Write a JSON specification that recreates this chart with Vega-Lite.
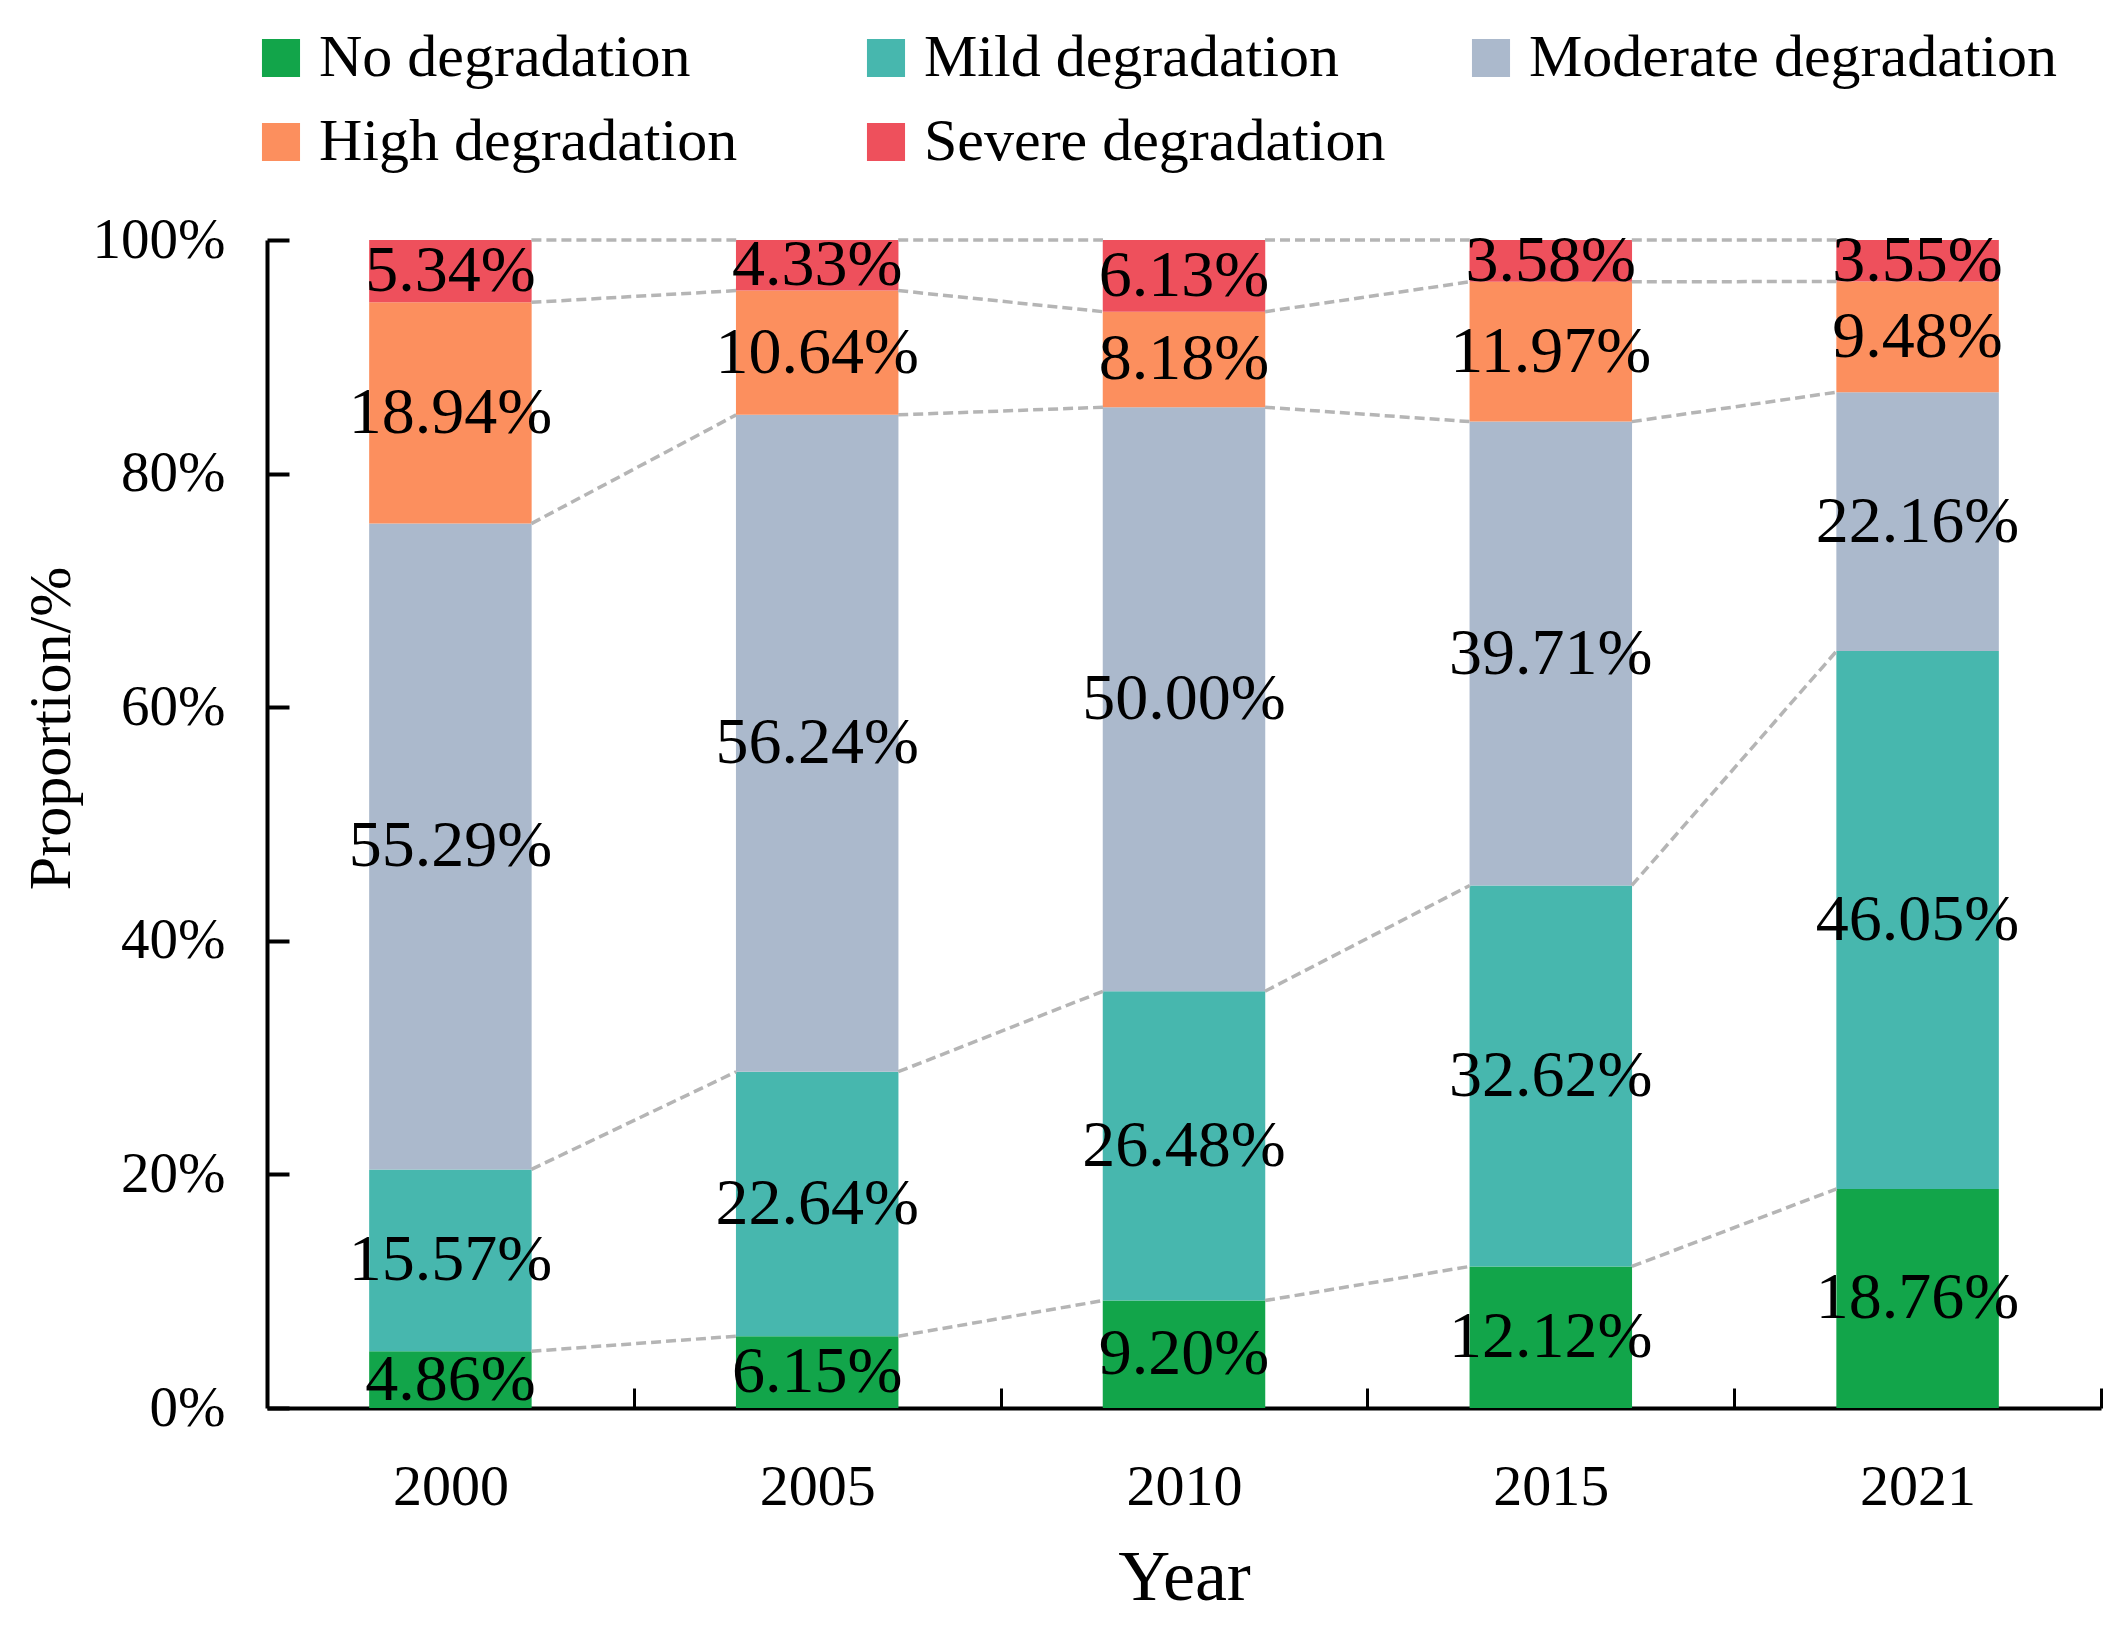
{
  "$schema": "https://vega.github.io/schema/vega-lite/v6.json",
  "width": 1834,
  "height": 1168,
  "autosize": "none",
  "padding": {"left": 267, "top": 240, "right": 20, "bottom": 232},
  "background": "white",
  "config": {
    "view": {"stroke": null},
    "font": "Liberation Serif",
    "axis": {"labelFont": "Liberation Serif", "titleFont": "Liberation Serif", "labelColor": "black", "titleColor": "black", "titleFontWeight": "normal", "grid": false},
    "legend": {"labelFont": "Liberation Serif"}
  },
  "data": {
    "values": [
      {"year": "2000", "cat": "No degradation", "order": 1, "p": 0.0486},
      {"year": "2000", "cat": "Mild degradation", "order": 2, "p": 0.1557},
      {"year": "2000", "cat": "Moderate degradation", "order": 3, "p": 0.5529},
      {"year": "2000", "cat": "High degradation", "order": 4, "p": 0.1894},
      {"year": "2000", "cat": "Severe degradation", "order": 5, "p": 0.0534},
      {"year": "2005", "cat": "No degradation", "order": 1, "p": 0.0615},
      {"year": "2005", "cat": "Mild degradation", "order": 2, "p": 0.2264},
      {"year": "2005", "cat": "Moderate degradation", "order": 3, "p": 0.5624},
      {"year": "2005", "cat": "High degradation", "order": 4, "p": 0.1064},
      {"year": "2005", "cat": "Severe degradation", "order": 5, "p": 0.0433},
      {"year": "2010", "cat": "No degradation", "order": 1, "p": 0.0920},
      {"year": "2010", "cat": "Mild degradation", "order": 2, "p": 0.2648},
      {"year": "2010", "cat": "Moderate degradation", "order": 3, "p": 0.5000},
      {"year": "2010", "cat": "High degradation", "order": 4, "p": 0.0818},
      {"year": "2010", "cat": "Severe degradation", "order": 5, "p": 0.0613},
      {"year": "2015", "cat": "No degradation", "order": 1, "p": 0.1212},
      {"year": "2015", "cat": "Mild degradation", "order": 2, "p": 0.3262},
      {"year": "2015", "cat": "Moderate degradation", "order": 3, "p": 0.3971},
      {"year": "2015", "cat": "High degradation", "order": 4, "p": 0.1197},
      {"year": "2015", "cat": "Severe degradation", "order": 5, "p": 0.0358},
      {"year": "2021", "cat": "No degradation", "order": 1, "p": 0.1876},
      {"year": "2021", "cat": "Mild degradation", "order": 2, "p": 0.4605},
      {"year": "2021", "cat": "Moderate degradation", "order": 3, "p": 0.2216},
      {"year": "2021", "cat": "High degradation", "order": 4, "p": 0.0948},
      {"year": "2021", "cat": "Severe degradation", "order": 5, "p": 0.0355}
    ]
  },
  "encoding": {
    "x": {
      "field": "year", "type": "nominal",
      "scale": {"paddingInner": 0.557, "paddingOuter": 0.2785},
      "axis": {
        "title": "Year", "labelAngle": 0, "labelFontSize": 58, "titleFontSize": 72,
        "domainColor": "black", "domainWidth": 4, "tickColor": "black", "tickWidth": 3,
        "tickSize": -20, "bandPosition": 0.5, "tickOffset": 183.4, "labelOffset": -183.4,
        "labelPadding": 70, "titlePadding": 26
      }
    }
  },
  "layer": [
    {
      "transform": [
        {"stack": "p", "groupby": ["year"], "sort": [{"field": "order"}], "as": ["y0", "y1"]}
      ],
      "layer": [
        {
          "mark": {"type": "bar"},
          "encoding": {
            "y": {
              "field": "y0", "type": "quantitative",
              "scale": {"domain": [0, 1], "nice": false},
              "axis": {
                "title": "Proportion/%", "format": ".0%", "values": [0, 0.2, 0.4, 0.6, 0.8, 1],
                "labelFontSize": 57, "titleFontSize": 60, "domainColor": "black", "domainWidth": 4,
                "tickColor": "black", "tickWidth": 4, "tickSize": -22, "labelPadding": 64,
                "titlePadding": 10, "titleY": 488
              }
            },
            "y2": {"field": "y1"},
            "color": {
              "field": "cat", "type": "nominal",
              "scale": {
                "domain": ["No degradation", "Mild degradation", "Moderate degradation", "High degradation", "Severe degradation"],
                "range": ["#12a54a", "#47b7ae", "#abb9cc", "#fc8f5e", "#ee505c"]
              },
              "legend": {
                "title": null, "orient": "none", "legendX": -16, "legendY": -212,
                "direction": "horizontal", "columns": 3, "gridAlign": "all",
                "symbolType": "square", "symbolSize": 1450, "symbolStrokeWidth": 0,
                "labelFontSize": 60, "labelColor": "black", "labelOffset": 8,
                "columnPadding": 8, "rowPadding": 24, "labelLimit": 800
              }
            }
          }
        },
        {
          "transform": [
            {"window": [{"op": "lead", "field": "y1", "as": "ny1"}, {"op": "lead", "field": "year", "as": "nyear"}], "groupby": ["cat"], "sort": [{"field": "year"}]},
            {"filter": "datum.nyear != null"}
          ],
          "mark": {"type": "rule", "color": "#b5b5b5", "strokeWidth": 3.5, "strokeDash": [10, 5], "xOffset": 81, "x2Offset": -81},
          "encoding": {
            "x2": {"field": "nyear"},
            "y": {"field": "y1", "type": "quantitative"},
            "y2": {"field": "ny1"}
          }
        }
      ]
    },
    {
      "mark": {"type": "text", "fontSize": 66, "color": "black", "font": "Liberation Serif"},
      "encoding": {
        "y": {
          "field": "p", "type": "quantitative", "stack": "zero", "bandPosition": 0.5,
          "axis": {
            "title": "Proportion/%", "format": ".0%", "values": [0, 0.2, 0.4, 0.6, 0.8, 1],
            "labelFontSize": 57, "titleFontSize": 60, "domainColor": "black", "domainWidth": 4,
            "tickColor": "black", "tickWidth": 4, "tickSize": -22, "labelPadding": 64,
            "titlePadding": 10, "titleY": 488
          }
        },
        "order": {"field": "order"},
        "text": {"field": "p", "type": "quantitative", "format": ".2%"}
      }
    }
  ]
}
